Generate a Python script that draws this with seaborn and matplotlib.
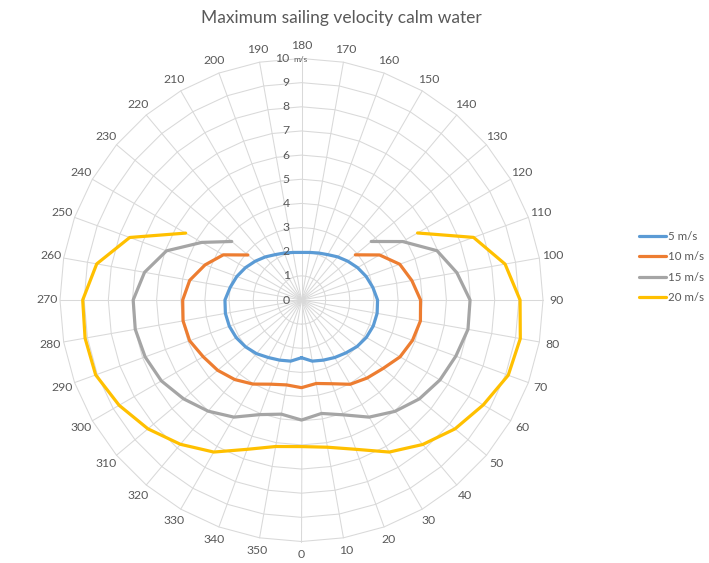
import numpy as np
import pandas as pd
import matplotlib
matplotlib.use("Agg")
import matplotlib.pyplot as plt
import seaborn as sns

# Wind direction (degrees) and maximum sailing speed (m/s) per wind speed
angles = list(range(0, 360, 10))

speed_5 = [2.39, 2.57, 2.65, 2.75, 2.86, 3.00, 3.10, 3.16, 3.18, 3.15,
           3.00, 2.85, 2.68, 2.50, 2.33, 2.17, 2.07, 2.00, 1.97, 2.00,
           2.07, 2.17, 2.33, 2.50, 2.68, 2.85, 3.00, 3.17, 3.20, 3.18,
           3.12, 3.02, 2.90, 2.75, 2.65, 2.57]

speed_10 = [3.63, 3.51, 3.69, 4.03, 4.22, 4.41, 4.71, 4.89, 5.00, 4.93,
            4.64, 4.33, 3.73, 2.91, None, None, None, None, None, None,
            None, None, None, 2.90, 3.74, 4.25, 4.70, 4.92, 4.98, 4.93,
            4.70, 4.53, 4.30, 4.02, 3.71, 3.57]

speed_15 = [4.97, 4.77, 5.06, 5.60, 6.02, 6.37, 6.62, 6.80, 7.00, 6.98,
            6.53, 5.97, 4.84, 3.77, None, None, None, None, None, None,
            None, None, None, 3.77, 4.77, 5.95, 6.60, 6.97, 6.99, 6.89,
            6.70, 6.37, 6.01, 5.60, 5.05, 4.80]

speed_20 = [6.07, 6.19, 6.58, 7.27, 7.81, 8.30, 8.69, 9.11, 9.20, 9.05,
            8.56, 7.58, 5.55, None, None, None, None, None, None, None,
            None, None, None, None, 5.54, 7.57, 8.61, 9.06, 9.10, 9.07,
            8.72, 8.30, 7.80, 7.27, 6.58, 6.16]

series_names = ["5 m/s", "10 m/s", "15 m/s", "20 m/s"]
series_values = [speed_5, speed_10, speed_15, speed_20]
colors = ["#5B9BD5", "#ED7D31", "#A5A5A5", "#FFC000"]
radial_ticks = list(range(0, 11))

TEXT = "#595959"
GRID = "#D9D9D9"

sns.set_style("white")
plt.rcParams["font.family"] = ["Lato", "DejaVu Sans"]


def trace(values):
    """Return one continuous run of (angle, value) going once round the
    circle, starting right after a gap if the series has one."""
    n = len(values)
    gaps = [i for i, v in enumerate(values) if v is None]
    if not gaps:
        idx = list(range(n + 1))
    else:
        start = (gaps[-1] + 1) % n
        idx = []
        for k in range(start, start + n):
            if values[k % n] is None:
                break
            idx.append(k)
    deg = [angles[k % n] + 360 * (k // n) for k in idx]
    val = [values[k % n] for k in idx]
    return deg, val


rows = []
for name, vals in zip(series_names, series_values):
    deg, val = trace(vals)
    for d, v in zip(deg, val):
        rows.append({"series": name, "theta": np.deg2rad(d), "speed": v})
df = pd.DataFrame(rows)

W, H = 709, 563
fig = plt.figure(figsize=(W / 100, H / 100), dpi=100)
cx, cy, R = 301.5, 300.0, 241.5
ax = fig.add_axes([(cx - R) / W, (H - cy - R) / H, 2 * R / W, 2 * R / H],
                  projection="polar")
ax.set_theta_zero_location("S")
ax.set_theta_direction(1)
ax.set_ylim(0, 10)
ax.grid(False)
ax.spines["polar"].set_visible(False)

# Polygonal grid and spokes
theta_grid = np.deg2rad(angles + [360])
for r in radial_ticks[1:]:
    ax.plot(theta_grid, [r] * len(theta_grid), color=GRID, lw=0.75,
            zorder=0, clip_on=False)
for a in angles:
    t = np.deg2rad(a)
    ax.plot([t, t], [0, 10], color=GRID, lw=0.75, zorder=0, clip_on=False)

sns.lineplot(data=df, x="theta", y="speed", hue="series",
             hue_order=series_names, palette=colors, sort=False,
             estimator=None, units="series", linewidth=2.3, ax=ax,
             legend=True)
for line in ax.get_lines():
    line.set_clip_on(False)
    line.set_solid_joinstyle("round")

handles, labels = ax.get_legend_handles_labels()
ax.get_legend().remove()
ax.set_xlabel("")
ax.set_ylabel("")
ax.set_xticks([])
ax.set_yticks([])

# Direction labels round the outside
for a in angles:
    ax.text(np.deg2rad(a), 10.55, str(a), ha="center", va="center",
            fontsize=8.8, color=TEXT)

# Speed scale along the upper spoke
for k in radial_ticks:
    ax.annotate(str(k), xy=(np.pi, k), xytext=(-8.5, 0),
                textcoords="offset points", ha="right", va="center",
                fontsize=8.8, color=TEXT)
ax.annotate("m/s", xy=(np.pi, 10), xytext=(-6, -1),
            textcoords="offset points", ha="left", va="center",
            fontsize=6, color=TEXT)

fig.text(341 / W, 1 - 18 / H, "Maximum sailing velocity calm water",
         ha="center", va="center", fontsize=12.5, color=TEXT)

leg = fig.legend(handles, labels, loc="center left",
                 bbox_to_anchor=(639 / W, 1 - 267 / H), frameon=False,
                 borderpad=0, borderaxespad=0,
                 fontsize=8.3, labelcolor=TEXT, handlelength=2.3,
                 handletextpad=0.2, labelspacing=0.8)
for h in leg.legend_handles:
    h.set_linewidth(2.3)

fig.savefig("out.png", dpi=100)
